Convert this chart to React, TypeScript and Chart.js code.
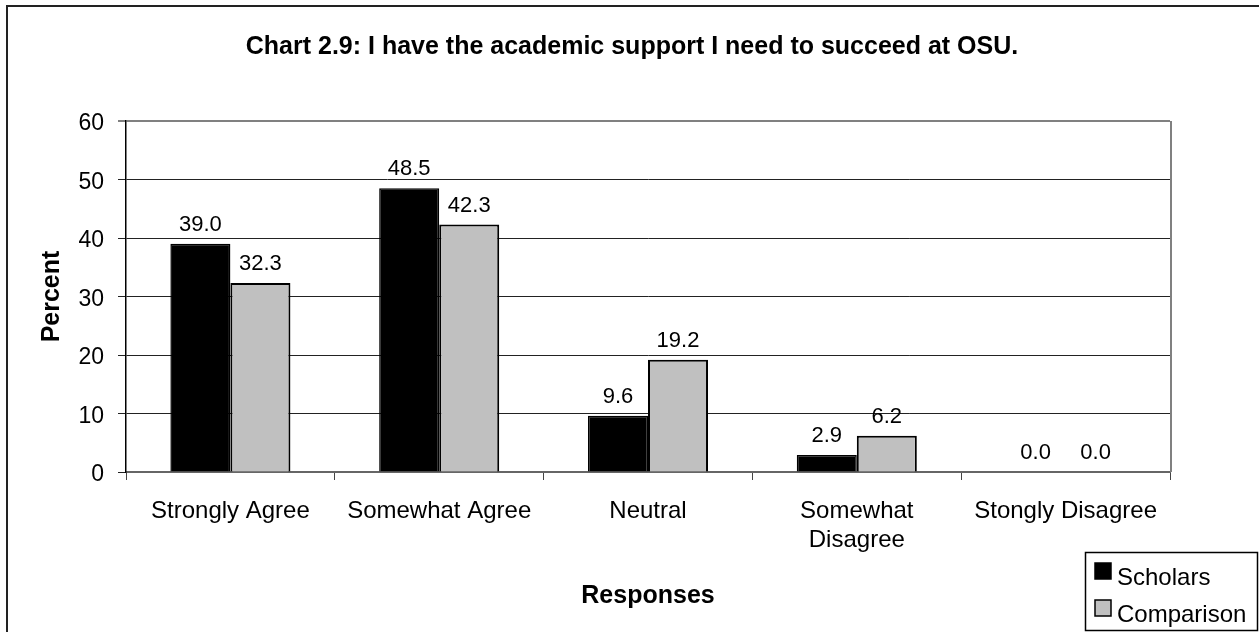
import React, { useEffect, useRef } from "react";
import { Chart, registerables } from "chart.js";

Chart.register(...registerables);

const categories: (string | string[])[] = [
  "Strongly Agree",
  "Somewhat Agree",
  "Neutral",
  ["Somewhat", "Disagree"],
  "Stongly Disagree",
];
const scholars = [39.0, 48.5, 9.6, 2.9, 0.0];
const comparison = [32.3, 42.3, 19.2, 6.2, 0.0];
const seriesNames = ["Scholars", "Comparison"];
const yTicks = [0, 10, 20, 30, 40, 50, 60];

const chartTitle = "Chart 2.9: I have the academic support I need to succeed at OSU.";
const xTitle = "Responses";
const yTitle = "Percent";

const FONT = "'Liberation Sans', Arial, sans-serif";
const W = 1259;
const H = 632;

const decorations = {
  id: "decorations",
  afterDraw(chart: any) {
    const { ctx, chartArea } = chart;
    ctx.save();

    // outer frame (top and left edges fall inside the canvas)
    ctx.strokeStyle = "#222";
    ctx.lineWidth = 2;
    ctx.beginPath();
    ctx.moveTo(7, H);
    ctx.lineTo(7, 6);
    ctx.lineTo(W, 6);
    ctx.stroke();

    // plot area right edge
    ctx.strokeStyle = "#808080";
    ctx.lineWidth = 2;
    ctx.beginPath();
    ctx.moveTo(chartArea.right + 1, chartArea.top);
    ctx.lineTo(chartArea.right + 1, chartArea.bottom);
    ctx.stroke();

    // title
    ctx.fillStyle = "#000";
    ctx.font = `bold 25px ${FONT}`;
    ctx.textAlign = "center";
    ctx.textBaseline = "alphabetic";
    ctx.fillText(chartTitle, 632, 54);

    // axis titles
    ctx.fillText(xTitle, (chartArea.left + chartArea.right) / 2, 603);
    ctx.save();
    ctx.translate(59, (chartArea.top + chartArea.bottom) / 2);
    ctx.rotate(-Math.PI / 2);
    ctx.fillText(yTitle, 0, 0);
    ctx.restore();

    // value labels above bars
    ctx.font = `22px ${FONT}`;
    chart.data.datasets.forEach((ds: any, di: number) => {
      const meta = chart.getDatasetMeta(di);
      meta.data.forEach((bar: any, i: number) => {
        const v = ds.data[i] as number;
        ctx.fillText(v.toFixed(1), bar.x, bar.y - 13);
      });
    });

    // legend box
    const lx = 1085;
    const ly = 552;
    ctx.fillStyle = "#fff";
    ctx.fillRect(lx, ly, 172, 78);
    ctx.strokeStyle = "#000";
    ctx.lineWidth = 1.5;
    ctx.strokeRect(lx + 0.5, ly + 0.5, 172, 78);
    ctx.font = `24px ${FONT}`;
    ctx.textAlign = "left";
    chart.data.datasets.forEach((ds: any, di: number) => {
      const baseY = 585 + di * 37;
      ctx.fillStyle = ds.backgroundColor;
      ctx.fillRect(lx + 10, baseY - 22, 16, 16);
      ctx.strokeStyle = "#000";
      ctx.lineWidth = 1.5;
      ctx.strokeRect(lx + 10, baseY - 22, 16, 16);
      ctx.fillStyle = "#000";
      ctx.fillText(ds.label, lx + 32, baseY);
    });

    ctx.restore();
  },
};

export default function App() {
  const canvasRef = useRef<HTMLCanvasElement | null>(null);

  useEffect(() => {
    if (!canvasRef.current) return;
    const chart = new Chart(canvasRef.current, {
      type: "bar",
      data: {
        labels: categories,
        datasets: [
          {
            label: seriesNames[0],
            data: scholars,
            backgroundColor: "#000000",
            borderColor: "#000000",
            borderWidth: 1.5,
            categoryPercentage: 0.575,
            barPercentage: 1,
          },
          {
            label: seriesNames[1],
            data: comparison,
            backgroundColor: "#C0C0C0",
            borderColor: "#000000",
            borderWidth: 2,
            categoryPercentage: 0.575,
            barPercentage: 1,
          },
        ],
      },
      options: {
        responsive: false,
        animation: false,
        devicePixelRatio: 1,
        layout: { padding: { left: 0, top: 121, right: W - 1170, bottom: 0 } },
        plugins: {
          legend: { display: false },
          title: { display: false },
          tooltip: { enabled: false },
        },
        scales: {
          x: {
            afterFit: (scale: any) => {
              scale.height = H - 121 - 351;
            },
            grid: {
              offset: true,
              drawOnChartArea: false,
              drawTicks: true,
              tickLength: 8,
              color: "#444",
              lineWidth: 1,
            },
            border: { color: "#666", width: 2 },
            ticks: {
              color: "#000",
              font: { family: FONT, size: 24, lineHeight: 1.2 },
              padding: 17,
              maxRotation: 0,
              autoSkip: false,
            },
          },
          y: {
            min: 0,
            max: 60,
            afterBuildTicks: (scale: any) => {
              scale.ticks = yTicks.map((v) => ({ value: v }));
            },
            afterFit: (scale: any) => {
              scale.width = 126;
            },
            grid: {
              color: (c: any) => (c.tick && c.tick.value === 60 ? "#808080" : "#222"),
              lineWidth: (c: any) => (c.tick && c.tick.value === 60 ? 2 : 1),
              tickLength: 8,
            },
            border: { color: "#000", width: 1.5 },
            ticks: {
              color: "#000",
              font: { family: FONT, size: 23 },
              padding: 14,
              labelOffset: 3,
            },
          },
        },
      },
      plugins: [decorations],
    });
    return () => chart.destroy();
  }, []);

  return (
    <div style={{ position: "fixed", left: 0, top: 0, width: W, height: H, background: "#fff" }}>
      <canvas ref={canvasRef} width={W} height={H} style={{ display: "block" }} />
    </div>
  );
}
